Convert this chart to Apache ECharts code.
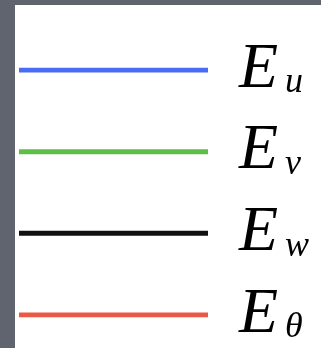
<!DOCTYPE html>
<html>
<head>
<meta charset="utf-8">
<script src="https://cdn.jsdelivr.net/npm/echarts@6/dist/echarts.min.js"></script>
<style>
  html, body { margin: 0; padding: 0; }
  body { width: 321px; height: 348px; background: #60646e; position: relative; overflow: hidden; }
  #chart { position: absolute; left: 15px; top: 5px; width: 306px; height: 343px; background: #fff; }
</style>
</head>
<body>
<div id="chart"></div>
<script>
// legend entries, top to bottom
const names = ['u', 'v', 'w', 'θ']
const colors = ['#4a6cf5', '#5fbe45', '#111111', '#ec5846']
const rows = [0, 1, 2, 3]

const chart = echarts.init(document.getElementById('chart'), null, { renderer: 'canvas' })

const option = {
  animation: false,
  grid: { left: 4, right: 113, top: 65, bottom: 33 },
  xAxis: { type: 'value', min: 0, max: 1, show: false },
  yAxis: { type: 'value', min: 0, max: 3, inverse: true, show: false },
  series: names.map((n, i) => ({
    type: 'line',
    name: n,
    data: [[0, rows[i]], [1, rows[i]]],
    symbol: 'none',
    lineStyle: { color: colors[i], width: 5 },
    endLabel: {
      show: true,
      distance: 31,
      formatter: () => '{e|E}{s|' + n + '}',
      rich: {
        e: {
          fontFamily: 'Liberation Serif',
          fontStyle: 'italic',
          fontSize: 64,
          lineHeight: 62,
          color: '#000'
        },
        s: {
          fontFamily: 'Liberation Serif',
          fontStyle: 'italic',
          fontSize: 36,
          lineHeight: 20,
          verticalAlign: 'bottom',
          padding: [0, 0, 0, 7],
          color: '#000'
        }
      }
    }
  }))
}

chart.setOption(option)
</script>
</body>
</html>
